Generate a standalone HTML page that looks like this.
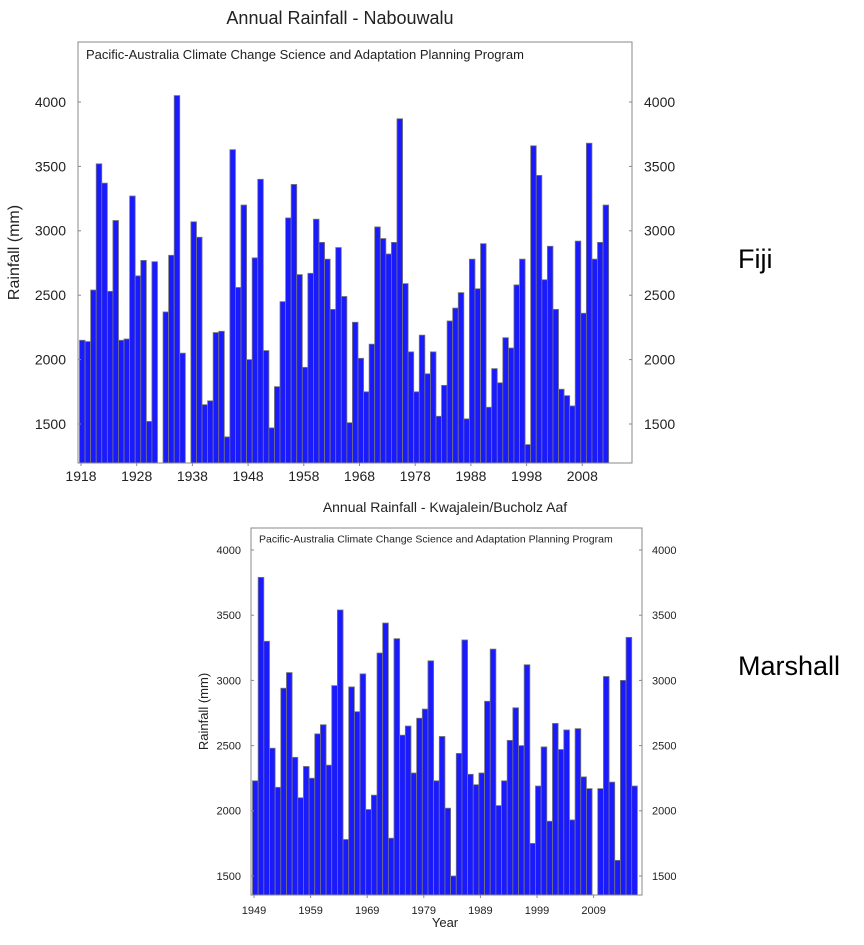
<!DOCTYPE html>
<html><head><meta charset="utf-8"><style>
body{margin:0;background:#fff;}
svg text{font-family:"Liberation Sans",sans-serif;}
</style></head><body>
<svg id="s" width="864" height="940" xmlns="http://www.w3.org/2000/svg">
<text x="738" y="268" font-size="27" fill="#000">Fiji</text>
<text x="738" y="675" font-size="27" fill="#000">Marshall</text>
</svg>
<script>
const fijiStart = 1918;
const fijiValues = [2150,2140,2540,3520,3370,2530,3080,2150,2160,3270,2650,2770,1520,2760,null,2370,2810,4050,2050,null,3070,2950,1650,1680,2210,2220,1400,3630,2560,3200,2000,2790,3400,2070,1470,1790,2450,3100,3360,2660,1940,2670,3090,2910,2780,2390,2870,2490,1510,2290,2010,1750,2120,3030,2940,2820,2910,3870,2590,2060,1750,2190,1890,2060,1560,1800,2300,2400,2520,1540,2780,2550,2900,1630,1930,1820,2170,2090,2580,2780,1340,3660,3430,2620,2880,2390,1770,1720,1640,2920,2360,3680,2780,2910,3200];
const fijiYTicks = [1500,2000,2500,3000,3500,4000];
const fijiXTicks = [1918,1928,1938,1948,1958,1968,1978,1988,1998,2008];
const marStart = 1949;
const marValues = [2230,3790,3300,2480,2180,2940,3060,2410,2100,2340,2250,2590,2660,2350,2960,3540,1780,2950,2760,3050,2010,2120,3210,3440,1790,3320,2580,2650,2290,2710,2780,3150,2230,2570,2020,1500,2440,3310,2280,2200,2290,2840,3240,2040,2230,2540,2790,2500,3120,1750,2190,2490,1920,2670,2470,2620,1930,2630,2260,2170,null,2170,3030,2220,1620,3000,3330,2190];
const marYTicks = [1500,2000,2500,3000,3500,4000];
const marXTicks = [1949,1959,1969,1979,1989,1999,2009];

const NS="http://www.w3.org/2000/svg";
const svg=document.getElementById('s');
function mk(tag,attrs,parent){const e=document.createElementNS(NS,tag);for(const k in attrs)e.setAttribute(k,attrs[k]);(parent||svg).appendChild(e);return e;}

function chart(cfg){
  const g=mk('g',{});
  
  
  const y=v=>cfg.y0-(v-cfg.v0)*cfg.ppu;
  const x=yr=>cfg.x0+(yr-cfg.start)*cfg.ppy;
  const t=mk('text',{x:cfg.titleX,y:cfg.titleY,'font-size':cfg.titleSize,'text-anchor':'middle',fill:'#222'},g);
  t.textContent=cfg.title;
  
  
  cfg.values.forEach((v,i)=>{
    if(v==null)return;
    const yr=cfg.start+i;
    const top=y(v);
    const r=mk('rect',{x:x(yr)-1.5,y:top,width:cfg.ppy,height:cfg.bottom-top,fill:'#1a1aff',stroke:'#777','stroke-width':0.8},g);
    
    
  });
  const f=mk('rect',{x:cfg.left,y:cfg.top,width:cfg.right-cfg.left,height:cfg.bottom-cfg.top,fill:'none',stroke:'#888','stroke-width':1},g);
  
  
  const sub=mk('text',{x:cfg.left+8,y:cfg.top+cfg.subSize+4,'font-size':cfg.subSize,fill:'#222'},g);
  sub.textContent='Pacific-Australia Climate Change Science and Adaptation Planning Program';
  
  
  cfg.yTicks.forEach(v=>{
    const yy=y(v);
    mk('line',{x1:cfg.left,x2:cfg.left+3,y1:yy,y2:yy,stroke:'#888'},g);
    mk('line',{x1:cfg.right-3,x2:cfg.right,y1:yy,y2:yy,stroke:'#888'},g);
    const a=mk('text',{x:cfg.left-cfg.lpad,y:yy+cfg.tickSize*0.35,'font-size':cfg.tickSize,'text-anchor':'end',fill:'#222'},g);
    a.textContent=v;
    
    
    const b=mk('text',{x:cfg.right+cfg.rpad,y:yy+cfg.tickSize*0.35,'font-size':cfg.tickSize,fill:'#222'},g);
    b.textContent=v;
    
    
  });
  cfg.xTicks.forEach(yr=>{
    const xx=x(yr);
    mk('line',{x1:xx,x2:xx,y1:cfg.bottom,y2:cfg.bottom+3,stroke:'#888'},g);
    const a=mk('text',{x:xx,y:cfg.bottom+cfg.tickSize+cfg.xpad,'font-size':cfg.tickSize,'text-anchor':'middle',fill:'#222'},g);
    a.textContent=yr;
    
    
  });
  const yl=mk('text',{x:0,y:0,'font-size':cfg.ylabSize,'text-anchor':'middle',fill:'#222',transform:`translate(${cfg.ylabX},${(cfg.top+cfg.bottom)/2}) rotate(-90)`},g);
  yl.textContent='Rainfall (mm)';
  
  
  return {x,y};
}

chart({name:'fiji-chart',title:'Annual Rainfall - Nabouwalu',titleX:340,titleY:24,titleSize:18,
  values:fijiValues,start:fijiStart,yTicks:fijiYTicks,xTicks:fijiXTicks,
  left:78,right:632,top:42,bottom:463,x0:81,ppy:5.57,y0:424,v0:1500,ppu:0.1288,
  subSize:13,tickSize:14,lpad:12,rpad:12,xpad:4,ylabX:19,ylabSize:16});
chart({name:'marshall-chart',title:'Annual Rainfall - Kwajalein/Bucholz Aaf',titleX:445,titleY:512,titleSize:14,
  values:marValues,start:marStart,yTicks:marYTicks,xTicks:marXTicks,
  left:251,right:642,top:528,bottom:895,x0:254,ppy:5.66,y0:876,v0:1500,ppu:0.1304,
  subSize:10.5,tickSize:11,lpad:10,rpad:10,xpad:8,ylabX:208,ylabSize:13});
const xt=mk('text',{x:445,y:927,'font-size':13,'text-anchor':'middle',fill:'#222'});
xt.textContent='Year';


</script>
</body></html>
